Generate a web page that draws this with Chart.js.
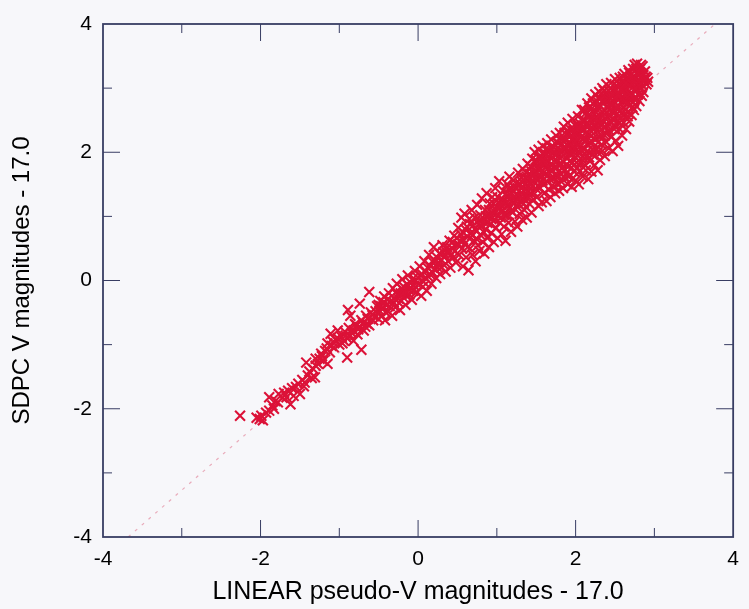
<!DOCTYPE html>
<html>
<head>
<meta charset="utf-8">
<title>SDPC vs LINEAR V magnitudes</title>
<script src="https://cdn.jsdelivr.net/npm/chart.js@4.4.1/dist/chart.umd.min.js"></script>
<style>
  html, body { margin: 0; padding: 0; background: #f7f7fa; }
</style>
</head>
<body>
<canvas id="magChart" width="749" height="609"></canvas>
<script>
// tick positions on all four sides (labels only on the even ones)
var axisTicks = [-4, -3, -2, -1, 0, 1, 2, 3, 4];

// faint dotted 1:1 guide
var guideX = [-3.68, 3.77];
var guideY = [-4, 4];

// [LINEAR pseudo-V - 17.0, SDPC V - 17.0]
var magPairs = [
  [-2.26,-2.11],[-2.05,-2.14],[-2.01,-2.16],[-1.99,-2.11],[-1.97,-2.18],[-1.93,-2.06],[-1.89,-2.03],[-1.85,-1.95],[-1.83,-2.0],[-1.81,-1.88],
  [-1.89,-1.82],[-1.78,-1.9],[-1.77,-1.77],[-1.72,-1.83],[-1.70,-1.75],[-1.67,-1.82],[-1.65,-1.72],[-1.62,-1.93],[-1.60,-1.68],[-1.58,-1.80],
  [-1.55,-1.66],[-1.50,-1.77],[-1.52,-1.61],[-1.47,-1.55],[-1.45,-1.65],[-1.44,-1.59],[-1.40,-1.48],[-1.38,-1.42],[-1.35,-1.52],[-1.33,-1.38],
  [-1.31,-1.51],[-1.42,-1.28],[-1.30,-1.33],[-1.27,-1.30],[-1.25,-1.22],[-1.23,-1.14],[-1.20,-1.25],[-1.18,-1.10],[-1.15,-0.98],[-1.15,-1.30],
  [-1.12,-1.12],[-1.11,-0.83],[-1.10,-1.02],[-1.07,-1.04],[-1.05,-0.92],[-1.02,-0.78],[-1.00,-1.00],[-0.97,-0.88],[-0.94,-0.94],[-0.93,-0.80],
  [-0.90,-1.20],[-0.90,-0.90],[-0.89,-0.46],[-0.86,-0.86],[-0.86,-0.55],[-0.82,-0.94],[-0.82,-0.78],[-0.78,-0.70],[-0.77,-0.84],[-0.74,-0.73],
  [-0.74,-0.36],[-0.72,-1.08],[-0.72,-0.62],[-0.69,-0.78],[-0.66,-0.55],[-0.65,-0.67],[-0.62,-0.70],[-0.62,-0.18],[-0.60,-0.50],[-0.57,-0.62],
  [-0.55,-0.56],[-0.52,-0.40],[-0.50,-0.60],[-0.49,-0.47],
  [-1.30,-1.22],[-1.22,-1.18],[-1.16,-1.06],[-1.08,-0.96],[-1.02,-0.90],[-0.96,-0.98],[-0.92,-0.86],[-0.88,-0.74],[-0.84,-0.82],[-0.80,-0.68],
  [-0.76,-0.76],[-0.70,-0.66],[-0.67,-0.72],[-0.64,-0.60],[-0.58,-0.54],[-0.54,-0.48],[-0.50,-0.38],[-0.47,-0.40],[-0.44,-0.34],[-0.41,-0.50],
  [-0.39,-0.30],[-0.36,-0.40],[-0.31,-0.34],[-0.28,-0.18],[-0.25,-0.28],[-0.22,-0.20],[-0.18,-0.10],[-0.15,-0.24],[-0.12,-0.14],[-0.09,-0.04],
  [-0.06,-0.16],[-0.03,0.00],[0.03,0.08],[0.06,-0.10],[0.09,0.04],[0.12,0.20],[0.15,0.10],[0.18,0.30],[0.21,0.18],[0.24,0.36],
  [0.26,0.28],[0.29,0.20],[0.32,0.44],[0.37,0.52],[0.42,0.40],[0.49,0.66],
  [-0.48,-0.32],[-0.46,-0.55],[-0.45,-0.44],[-0.43,-0.25],[-0.42,-0.62],[-0.40,-0.38],[-0.38,-0.48],[-0.37,-0.20],[-0.35,-0.33],[-0.33,-0.55],
  [-0.32,-0.12],[-0.30,-0.28],[-0.29,-0.42],[-0.27,-0.05],[-0.26,-0.22],[-0.24,-0.35],[-0.23,-0.46],[-0.21,-0.12],[-0.20,0.02],[-0.19,-0.26],
  [-0.17,-0.18],[-0.16,-0.38],[-0.14,-0.06],[-0.13,0.08],[-0.11,-0.22],[-0.10,-0.12],[-0.08,-0.30],[-0.07,0.02],[-0.05,-0.08],[-0.04,0.15],
  [-0.02,-0.18],[0.00,0.04],[0.01,-0.05],[0.02,0.22],[0.04,-0.24],[0.05,0.10],[0.07,-0.02],[0.08,0.30],[0.10,0.14],[0.11,-0.16],
  [0.13,0.06],[0.14,0.40],[0.16,0.22],[0.17,-0.05],[0.19,0.12],[0.20,0.52],[0.22,0.30],[0.23,0.04],[0.25,0.20],[0.27,0.42],
  [0.28,0.10],[0.30,0.32],[0.31,0.55],[0.33,0.24],[0.35,0.14],[0.36,0.44],[0.38,0.30],[0.40,0.62],[0.41,0.20],[0.43,0.50],
  [0.45,0.36],[0.46,0.70],[0.48,0.28],[0.50,0.56],
  [0.34,0.38],[0.39,0.46],[0.44,0.60],[0.47,0.46],[0.52,0.56],[0.54,0.72],[0.57,0.64],[0.60,0.80],[0.63,0.52],[0.66,0.88],
  [0.69,0.70],[0.72,0.80],[0.75,0.64],[0.78,0.94],[0.80,0.84],[0.83,0.76],[0.86,1.00],[0.88,0.90],[0.90,1.10],[0.93,0.96],
  [0.96,1.20],[0.98,1.06],
  [0.51,0.82],[0.52,0.40],[0.53,0.62],[0.55,0.98],[0.56,0.50],[0.57,0.22],[0.58,0.74],[0.59,1.04],[0.60,0.58],[0.61,0.36],
  [0.62,0.84],[0.63,0.68],[0.64,0.16],[0.65,0.96],[0.66,0.50],[0.67,0.74],[0.68,1.10],[0.69,0.40],[0.70,0.86],[0.71,0.62],
  [0.72,0.98],[0.73,0.30],[0.74,0.78],[0.75,1.18],[0.76,0.55],[0.77,0.88],[0.78,0.46],[0.79,1.02],[0.80,0.70],[0.81,1.28],
  [0.82,0.60],[0.83,0.92],[0.84,0.42],[0.85,1.10],[0.86,0.80],[0.87,1.36],[0.88,0.66],[0.89,1.00],[0.90,0.52],[0.91,1.20],
  [0.92,0.88],[0.93,0.74],[0.94,1.30],[0.95,1.05],[0.96,0.60],[0.97,0.95],[0.98,1.44],[0.99,0.82],[1.00,1.14],[1.01,0.66],
  [1.02,1.00],[1.03,1.55],[1.04,0.90],[1.05,1.26],[1.06,0.72],[1.07,1.10],[1.08,1.40],[1.09,0.84],[1.10,1.20],[1.11,0.62],
  [1.12,1.02],[1.13,1.50],[1.14,1.30],[1.15,0.90],[1.16,1.62],[1.17,1.14],[1.18,0.76],[1.19,1.36],[1.20,1.06],[1.21,1.56],
  [1.22,1.22],[1.23,0.92],[1.24,1.44],[1.25,1.16],[1.26,0.84],[1.27,1.68],[1.28,1.32],[1.29,1.04],[1.30,1.50],[1.31,1.22],
  [1.32,0.95],[1.33,1.74],[1.34,1.40],[1.35,1.10],[1.36,1.60],[1.37,1.30],[1.38,0.98],[1.39,1.82],[1.40,1.48],[1.41,1.20],
  [1.42,1.66],[1.43,1.36],[1.44,1.06],[1.45,1.90],[1.46,1.56],[1.47,1.26],[1.48,2.00],[1.49,1.44],[1.50,1.70],
  [1.01,1.30],[1.03,1.20],[1.05,0.98],[1.08,1.26],[1.10,1.04],[1.12,1.36],[1.14,1.16],[1.16,1.44],[1.18,1.24],[1.20,1.40],
  [1.23,1.30],[1.25,1.52],[1.27,1.20],[1.29,1.40],[1.31,1.60],[1.33,1.28],[1.35,1.50],[1.37,1.68],[1.39,1.38],[1.41,1.58],
  [1.43,1.78],[1.45,1.46],[1.47,1.68],[1.49,1.88],
  [0.92,1.02],[0.97,1.12],[1.02,1.12],[1.06,1.18],[1.09,1.02],[1.13,1.22],[1.17,1.34],[1.19,1.08],[1.22,1.46],[1.24,1.24],
  [1.28,1.48],[1.30,1.30],[1.32,1.54],[1.34,1.20],[1.36,1.42],[1.38,1.62],[1.40,1.30],[1.42,1.50],[1.44,1.70],[1.46,1.38],
  [1.48,1.60],[1.50,1.82],[1.53,1.46],[1.54,1.64],[1.57,1.86],[1.58,1.56],[1.61,1.76],[1.62,1.96],[1.65,1.64],[1.66,1.94],
  [1.69,1.82],[1.70,1.48],[1.73,2.00],[1.73,1.60],[1.76,1.76],[1.78,2.06],[1.79,1.62],[1.82,1.82],[1.83,2.02],[1.85,1.62],
  [1.86,2.30],[1.88,1.80],[1.90,2.10],[1.91,1.62],[1.93,1.86],[1.94,2.26],[1.96,2.06],[1.97,1.60],[1.98,2.30],[2.00,2.14],
  [2.01,1.84],[2.02,2.42],[2.04,2.02],[2.05,2.28],[2.07,1.90],[2.08,2.36],[2.10,2.06],[2.11,2.50],[2.12,1.80],[2.13,2.20],
  [2.15,2.56],[2.16,2.12],[2.17,1.92],[2.19,2.66],[2.20,2.32],[2.21,2.04],[2.23,2.50],[2.24,2.78],[2.25,2.20],[2.27,2.56],
  [2.28,2.00],[2.29,2.84],[2.30,2.38],[2.32,2.72],[2.33,2.12],[2.35,2.50],[2.36,2.82],[2.37,2.26],[2.39,2.62],[2.40,2.42],
  [2.42,2.80],[2.43,2.34],[2.44,2.66],[2.46,2.88],[2.47,2.52],[2.49,2.78],[2.50,2.40],[2.52,3.04],[2.53,2.60],[2.55,2.82],
  [2.56,2.46],[2.58,2.78],[2.59,3.00],[2.61,2.58],[2.62,2.84],[2.64,3.00],[2.66,3.06],[2.67,2.62],[2.69,2.82],[2.70,3.06],
  [2.72,2.70],[2.73,3.16],[2.76,2.86],[2.78,2.98],[2.80,3.20],[2.82,3.10],[2.85,3.04],
  [1.51,1.30],[1.51,1.86],[1.52,1.58],[1.53,2.04],[1.53,1.16],[1.54,1.72],[1.55,1.44],[1.56,1.94],[1.56,1.62],[1.57,1.22],
  [1.58,2.10],[1.59,1.50],[1.60,1.80],[1.60,1.36],[1.61,1.98],[1.62,1.66],[1.63,1.24],[1.64,2.14],[1.64,1.54],[1.65,1.86],
  [1.66,1.42],[1.67,2.02],[1.68,1.72],[1.68,1.30],[1.69,2.20],[1.70,1.60],[1.71,1.92],[1.72,1.46],[1.72,2.08],[1.73,1.76],
  [1.74,1.36],[1.75,2.26],[1.75,1.66],
  [1.52,1.76],[1.55,1.90],[1.57,1.70],[1.59,2.00],[1.62,1.84],[1.63,2.06],[1.66,1.76],[1.67,1.58],[1.70,2.10],[1.71,1.80],
  [1.74,1.96],[1.76,2.16],[1.77,1.86],[1.80,1.96],[1.82,2.12],[1.83,1.76],[1.86,2.20],[1.88,2.00],[1.89,1.68],[1.91,2.30],
  [1.92,1.98],[1.94,2.12],[1.95,1.76],[1.97,2.34],[1.98,2.00],
  [1.76,1.98],[1.77,1.50],[1.78,2.14],[1.78,1.80],[1.79,1.40],[1.80,2.30],[1.81,1.66],[1.81,2.00],[1.82,1.54],[1.83,2.20],
  [1.84,1.86],[1.84,1.44],[1.85,2.40],[1.86,1.72],[1.87,2.08],[1.87,1.60],[1.88,2.28],[1.89,1.90],[1.90,1.50],[1.90,2.46],
  [1.91,1.78],[1.92,2.16],[1.93,1.64],[1.93,2.36],[1.94,1.96],[1.95,1.46],[1.96,2.52],[1.96,1.84],[1.97,2.22],[1.98,1.70],
  [1.99,2.06],[1.99,2.42],[2.00,1.56],[2.00,1.92],
  [2.01,2.30],[2.02,1.76],[2.03,2.56],[2.03,2.12],[2.04,1.50],[2.05,1.98],[2.06,2.44],[2.06,1.84],[2.07,2.24],[2.08,2.66],
  [2.09,1.62],[2.09,2.06],[2.10,2.36],[2.11,1.90],[2.12,2.60],[2.12,2.16],[2.13,1.72],[2.14,2.46],[2.15,2.02],[2.15,2.76],
  [2.16,1.58],[2.17,2.28],[2.18,1.86],[2.18,2.56],[2.19,2.14],[2.20,2.84],[2.20,1.70],[2.21,2.38],[2.22,1.96],[2.23,2.66],
  [2.23,2.22],[2.24,1.80],[2.25,2.50],[2.25,2.90],
  [2.02,2.20],[2.04,2.38],[2.05,1.70],[2.07,2.04],[2.08,2.50],[2.10,2.22],[2.11,2.66],[2.13,2.30],[2.14,1.94],[2.16,2.40],
  [2.17,2.70],[2.19,2.50],[2.21,2.16],[2.22,2.76],[2.24,2.40],[2.26,2.62],[2.27,2.80],[2.29,2.50],[2.30,2.24],[2.32,2.84],
  [2.33,2.44],[2.35,2.62],[2.36,2.96],[2.38,2.30],[2.40,2.88],[2.41,2.54],[2.43,2.76],[2.44,3.00],[2.46,2.64],[2.48,2.50],
  [2.26,2.06],[2.27,2.34],[2.28,1.72],[2.28,2.70],[2.29,2.16],[2.30,2.94],[2.31,2.46],[2.31,1.88],[2.32,2.60],[2.33,2.26],
  [2.34,3.00],[2.34,2.02],[2.35,2.78],[2.36,2.40],[2.37,1.94],[2.37,2.88],[2.38,2.52],[2.39,3.06],[2.39,2.16],[2.40,2.70],
  [2.41,2.32],[2.42,2.96],[2.42,2.06],[2.43,2.58],[2.44,2.84],[2.45,2.24],[2.45,3.08],[2.46,2.46],[2.47,2.74],[2.47,2.02],
  [2.48,2.94],[2.49,2.36],[2.50,2.62],[2.50,3.14],
  [2.51,2.18],[2.52,2.84],[2.53,2.48],[2.53,3.02],[2.54,2.10],[2.55,2.72],[2.56,3.16],[2.56,2.36],[2.57,2.90],[2.58,2.60],
  [2.59,2.26],[2.59,3.10],[2.60,2.80],[2.61,2.46],[2.62,3.00],[2.62,3.22],[2.63,2.66],[2.64,2.36],[2.65,2.92],[2.65,3.14],
  [2.66,2.56],[2.67,2.84],[2.68,3.24],[2.68,2.48],[2.69,3.04],[2.70,2.74],[2.71,2.58],[2.71,3.16],[2.72,2.90],[2.73,3.30],
  [2.74,2.66],[2.74,3.08],[2.75,2.82],[2.75,3.36],
  [2.51,2.96],[2.52,2.70],[2.54,2.90],[2.55,3.06],[2.57,2.54],[2.58,2.98],[2.60,3.18],[2.61,2.70],[2.63,2.88],[2.64,3.08],
  [2.66,2.76],[2.67,3.28],[2.69,2.90],[2.70,3.20],[2.72,3.06],[2.73,2.78],[2.76,3.14],[2.77,3.30],[2.79,3.04],[2.81,3.24],
  [2.83,3.36],[2.84,2.88],[2.86,3.20],[2.89,3.18],
  [2.76,3.00],[2.77,2.72],[2.78,3.22],[2.78,3.38],[2.79,2.90],[2.80,3.10],[2.81,2.80],[2.82,3.30],[2.83,3.00],[2.84,3.18],
  [2.85,3.34],[2.86,2.94],[2.87,3.12],[2.88,3.26],[2.90,3.06],[2.91,3.16],[2.92,3.10]
];

var frameColor = '#383d63';
var fontName = "'Liberation Sans', Arial, Helvetica, sans-serif";
var markColor = 'rgb(220, 18, 56)';

var scatterData = magPairs.map(function(p){ return {x: p[0], y: p[1]}; });
var guideData = guideX.map(function(v, i){ return {x: v, y: guideY[i]}; });

// paper background, then the box with inward ticks on every side
var framePlugin = {
  id: 'frame',
  beforeDraw: function(chart){
    var ctx = chart.ctx;
    ctx.save();
    ctx.fillStyle = '#f7f7fa';
    ctx.fillRect(0, 0, chart.width, chart.height);
    ctx.restore();
  },
  afterDatasetsDraw: function(chart){
    var ctx = chart.ctx;
    var a = chart.chartArea;
    var xs = chart.scales.x;
    var ys = chart.scales.y;
    ctx.save();
    ctx.strokeStyle = frameColor;
    ctx.lineWidth = 1;
    for (var i = 1; i < axisTicks.length - 1; i++) {
      var v = axisTicks[i];
      var len = (v % 2 === 0) ? 17 : 9;
      var px = xs.getPixelForValue(v);
      var py = ys.getPixelForValue(v);
      ctx.beginPath();
      ctx.moveTo(px, a.bottom); ctx.lineTo(px, a.bottom - len);
      ctx.moveTo(px, a.top); ctx.lineTo(px, a.top + len);
      ctx.moveTo(a.left, py); ctx.lineTo(a.left + len, py);
      ctx.moveTo(a.right, py); ctx.lineTo(a.right - len, py);
      ctx.stroke();
    }
    ctx.lineWidth = 1.8;
    ctx.strokeRect(a.left, a.top, a.right - a.left, a.bottom - a.top);
    ctx.restore();
  }
};

var ctx = document.getElementById('magChart');

var magChart = new Chart(ctx, {
  type: 'scatter',
  data: {
    datasets: [
      {
        label: 'stars',
        data: scatterData,
        order: 0,
        pointStyle: 'crossRot',
        pointRadius: 7,
        pointHoverRadius: 7,
        borderColor: markColor,
        backgroundColor: markColor,
        pointBorderWidth: 2.1
      },
      {
        label: '1:1',
        type: 'line',
        data: guideData,
        order: 1,
        showLine: true,
        pointRadius: 0,
        borderColor: 'rgba(226, 140, 160, 0.7)',
        borderWidth: 1.2,
        borderDash: [3, 6],
        fill: false
      }
    ]
  },
  options: {
    responsive: false,
    animation: false,
    devicePixelRatio: 1,
    layout: {
      autoPadding: false,
      padding: { top: 24, right: 2, left: 0, bottom: 0 }
    },
    plugins: {
      legend: { display: false },
      tooltip: { enabled: false }
    },
    scales: {
      x: {
        type: 'linear',
        min: -4,
        max: 4,
        grid: { display: false, drawTicks: false },
        border: { display: false },
        ticks: {
          stepSize: 2,
          padding: 10,
          color: '#000',
          font: { family: fontName, size: 21 }
        },
        title: {
          display: true,
          text: 'LINEAR pseudo-V magnitudes - 17.0',
          color: '#000',
          font: { family: fontName, size: 25 },
          padding: { top: 0, bottom: 2 }
        },
        afterFit: function(scale){ scale.height = 72; }
      },
      y: {
        type: 'linear',
        min: -4,
        max: 4,
        grid: { display: false, drawTicks: false },
        border: { display: false },
        ticks: {
          stepSize: 2,
          padding: 11,
          color: '#000',
          font: { family: fontName, size: 21 }
        },
        title: {
          display: true,
          text: 'SDPC V magnitudes - 17.0',
          color: '#000',
          font: { family: fontName, size: 24 },
          padding: { top: 8, bottom: 0 }
        },
        afterFit: function(scale){ scale.width = 103; }
      }
    }
  },
  plugins: [framePlugin]
});
</script>
</body>
</html>
